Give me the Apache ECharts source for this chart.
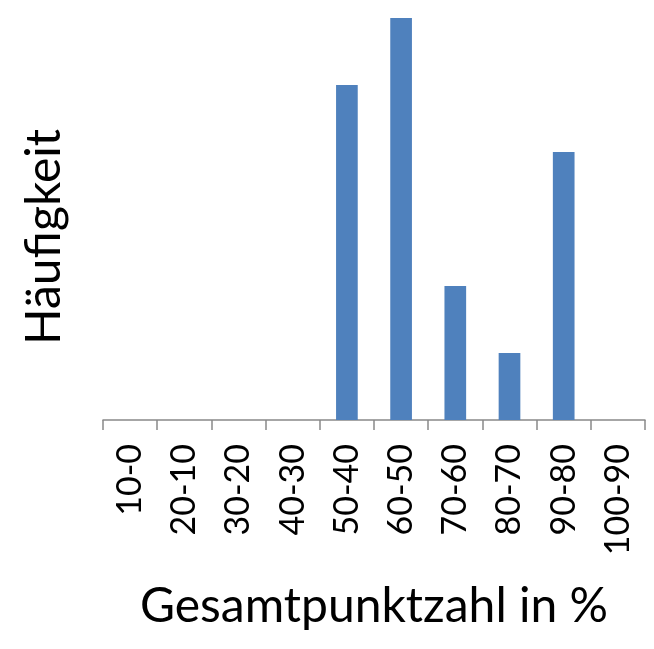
<!DOCTYPE html>
<html>
<head>
<meta charset="utf-8">
<script src="https://cdn.jsdelivr.net/npm/echarts@6/dist/echarts.min.js"></script>
<style>
  html, body { margin: 0; padding: 0; background: #fff; }
  #chart { width: 654px; height: 649px; }
</style>
</head>
<body>
<div id="chart"></div>
<script>
const categories = ['10-0', '20-10', '30-20', '40-30', '50-40', '60-50', '70-60', '80-70', '90-80', '100-90']
const counts = [0, 0, 0, 0, 5, 6, 2, 1, 4, 0]
const xTitle = 'Gesamtpunktzahl in %'
const yTitle = 'Häufigkeit'

const chart = echarts.init(document.getElementById('chart'))
chart.setOption({
  animation: false,
  grid: { left: 103, right: 9, top: 18, bottom: 229 },
  xAxis: {
    type: 'category',
    data: categories,
    name: xTitle,
    nameLocation: 'middle',
    nameGap: 163,
    nameTextStyle: { fontFamily: 'Lato', fontSize: 48, color: '#000' },
    axisLine: { lineStyle: { color: '#898989', width: 1.5 } },
    axisTick: { show: true, length: 10, lineStyle: { color: '#898989', width: 1.5 } },
    axisLabel: {
      show: true,
      interval: 0,
      rotate: 90,
      margin: 24,
      fontFamily: 'Lato',
      fontSize: 34,
      color: '#000'
    }
  },
  yAxis: {
    type: 'value',
    min: 0,
    max: 6,
    show: false
  },
  graphic: [{
    type: 'text',
    x: 45,
    y: 237,
    rotation: Math.PI / 2,
    style: {
      text: yTitle,
      fontFamily: 'Lato',
      fontSize: 48,
      fill: '#000',
      align: 'center',
      verticalAlign: 'middle'
    }
  }],
  series: [{
    type: 'bar',
    data: counts,
    barWidth: '40%',
    itemStyle: { color: '#4F81BD' }
  }]
})
</script>
</body>
</html>
